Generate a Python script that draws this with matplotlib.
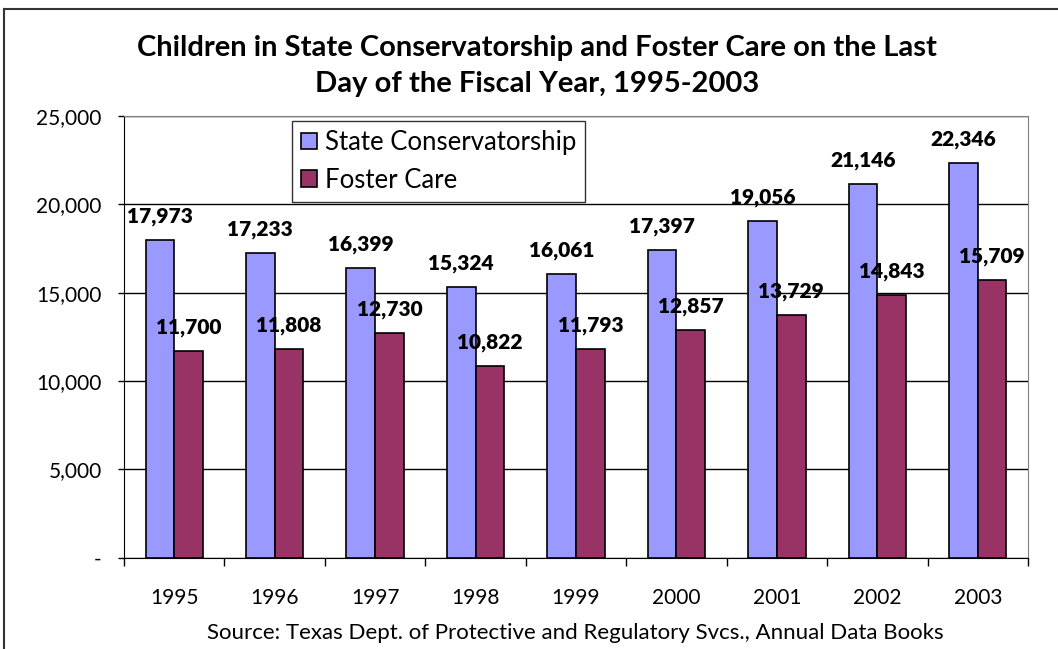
import matplotlib
matplotlib.use("Agg")
import matplotlib.pyplot as plt
from matplotlib.lines import Line2D
from matplotlib.ticker import FuncFormatter, MultipleLocator
import numpy as np

plt.rcParams['font.family'] = ['Lato', 'DejaVu Sans']

years = ["1995", "1996", "1997", "1998", "1999", "2000", "2001", "2002", "2003"]
conservatorship = [17973, 17233, 16399, 15324, 16061, 17397, 19056, 21146, 22346]
foster_care = [11700, 11808, 12730, 10822, 11793, 12857, 13729, 14843, 15709]
series_names = ["State Conservatorship", "Foster Care"]
title = "Children in State Conservatorship and Foster Care on the Last\nDay of the Fiscal Year, 1995-2003"
source = "Source: Texas Dept. of Protective and Regulatory Svcs., Annual Data Books"

W, H = 1058, 649
fig = plt.figure(figsize=(W / 100, H / 100), dpi=100)
fig.patch.set_facecolor("white")

# outer frame (left and top edges visible)
fig.add_artist(Line2D([4 / W, 4 / W], [0, 1 - 9 / H], color="#333333", lw=1.5, transform=fig.transFigure))
fig.add_artist(Line2D([4 / W, 1], [1 - 9 / H, 1 - 9 / H], color="#333333", lw=1.5, transform=fig.transFigure))

left, right, top, bottom = 124, 1028, 116, 557.5
ax = fig.add_axes([left / W, (H - bottom) / H, (right - left) / W, (bottom - top) / H])

x = np.arange(len(years))
w = 0.285
b1 = ax.bar(x - w / 2, conservatorship, w, color="#9999FF", edgecolor="black", lw=1.2, label=series_names[0], zorder=3)
b2 = ax.bar(x + w / 2, foster_care, w, color="#993366", edgecolor="black", lw=1.2, label=series_names[1], zorder=3)

for bars, vals in ((b1, conservatorship), (b2, foster_care)):
    for rect, v in zip(bars, vals):
        ax.annotate(f"{v:,}", (rect.get_x() + rect.get_width() / 2, v),
                    xytext=(0, 17), textcoords="offset points",
                    ha="center", va="center", fontsize=15, fontweight="heavy", zorder=5)

ax.set_xlim(-0.5, len(years) - 0.5)
ax.set_ylim(0, 25000)
ax.yaxis.set_major_locator(MultipleLocator(5000))
ax.yaxis.set_major_formatter(FuncFormatter(lambda v, p: "-" if v == 0 else f"{int(v):,}"))
ax.grid(axis="y", color="black", lw=1, zorder=0)
ax.set_axisbelow(True)

ax.set_xticks(x)
ax.set_xticklabels(years)
ax.set_xticks(np.arange(len(years) + 1) - 0.5, minor=True)
ax.tick_params(axis="x", which="major", length=0, pad=22, labelsize=15)
ax.tick_params(axis="x", which="minor", length=6, width=1, direction="out")
ax.tick_params(axis="y", length=4, width=1, direction="out", labelsize=15, pad=12)

ax.spines["left"].set_color("black")
ax.spines["bottom"].set_color("black")
ax.spines["right"].set_color("#808080")
ax.spines["top"].set_color("#808080")

leg = ax.legend(loc="upper left", bbox_to_anchor=((292 - left) / (right - left), 1 - (121 - top) / (bottom - top)),
                fontsize=18.5, frameon=True, fancybox=False, edgecolor="black", handlelength=0.62,
                handleheight=0.62, handletextpad=0.3, borderpad=0.35, labelspacing=0.5, borderaxespad=0)
leg.get_frame().set_linewidth(1)
leg.set_zorder(6)

fig.text(537 / W, 1 - 66 / H, title, ha="center", va="center", fontsize=21, fontweight="bold", linespacing=1.5)
fig.text(575 / W, 1 - 633 / H, source, ha="center", va="center", fontsize=16)

fig.savefig("out.png", dpi=100)
